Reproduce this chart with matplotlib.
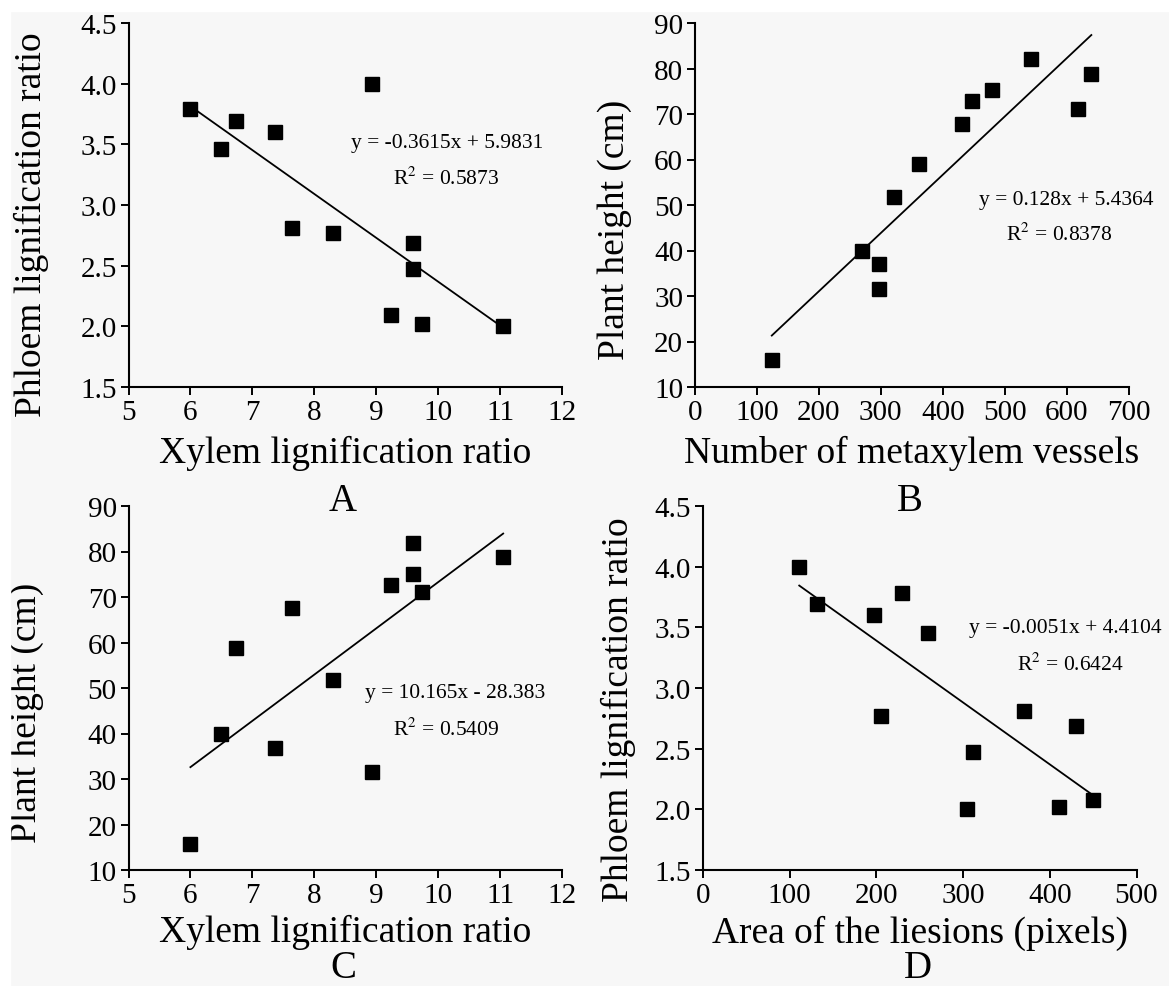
import numpy as np
import matplotlib
matplotlib.use("Agg")
import matplotlib.pyplot as plt
from matplotlib.patches import Rectangle

plt.rcParams['font.family'] = ['Liberation Serif', 'DejaVu Serif']
plt.rcParams['mathtext.fontset'] = 'stix'

# shared x values for panels A and C
xylem_ratio = [6.00, 6.50, 6.74, 7.36, 7.64, 8.30, 8.94, 9.24, 9.59, 9.59, 9.74, 11.05]
phloem_A = [3.79, 3.46, 3.69, 3.60, 2.81, 2.77, 4.00, 2.09, 2.69, 2.47, 2.02, 2.00]
height_C = [15.8, 39.9, 58.8, 36.9, 67.5, 51.7, 31.6, 72.7, 81.9, 75.1, 71.1, 78.7]

metaxylem_vessels = [124, 269, 297, 297, 321, 362, 431, 447, 480, 543, 619, 640]
height_B = [15.9, 39.8, 37.0, 31.6, 51.8, 59.1, 67.8, 72.9, 75.3, 82.1, 71.2, 78.7]

lesion_area = [111, 132, 197, 230, 260, 205, 370, 430, 311, 305, 411, 450]
phloem_D = [4.00, 3.69, 3.60, 3.78, 3.45, 2.77, 2.81, 2.69, 2.47, 2.00, 2.02, 2.08]

# trend line coefficients as printed on the chart
slopes = [-0.3615, 0.128, 10.165, -0.0051]
intercepts = [5.9831, 5.4364, -28.383, 4.4104]
equations = ["y = -0.3615x + 5.9831", "y = 0.128x + 5.4364",
             "y = 10.165x - 28.383", "y = -0.0051x + 4.4104"]
r_squared = ["0.5873", "0.8378", "0.5409", "0.6424"]

panel_letters = ["A", "B", "C", "D"]
x_labels = ["Xylem lignification ratio", "Number of metaxylem vessels",
            "Xylem lignification ratio", "Area of the liesions (pixels)"]
y_labels = ["Phloem lignification ratio", "Plant height (cm)",
            "Plant height (cm)", "Phloem lignification ratio"]

fig = plt.figure(figsize=(11.69, 9.87), dpi=100, facecolor='#f7f7f7')
fig.patches.append(Rectangle((0, 1 - 12 / 987), 1, 12 / 987, transform=fig.transFigure,
                             color='white', zorder=0))
fig.patches.append(Rectangle((0, 0), 10 / 1169, 1, transform=fig.transFigure,
                             color='white', zorder=0))

W = 433.5 / 1169
H = 364 / 987
axes_rect = [
    [128.5 / 1169, 1 - 388 / 987, W, H],
    [695 / 1169, 1 - 388 / 987, W, H],
    [128.5 / 1169, 1 - 871 / 987, W, H],
    [703 / 1169, 1 - 871 / 987, W, H],
]

panels = [
    (xylem_ratio, phloem_A, (5, 12), np.arange(5, 13, 1), (1.5, 4.5), np.arange(1.5, 4.51, 0.5), "%.1f"),
    (metaxylem_vessels, height_B, (0, 700), np.arange(0, 701, 100), (10, 90), np.arange(10, 91, 10), "%d"),
    (xylem_ratio, height_C, (5, 12), np.arange(5, 13, 1), (10, 90), np.arange(10, 91, 10), "%d"),
    (lesion_area, phloem_D, (0, 500), np.arange(0, 501, 100), (1.5, 4.5), np.arange(1.5, 4.51, 0.5), "%.1f"),
]

# label positions in axes fraction
xlabel_y = [-0.179, -0.179, -0.170, -0.170]
ylabel_pos = [(-0.223, 0.45), (-0.185, 0.434), (-0.234, 0.434), (-0.196, 0.442)]
letter_base = [-0.338, -0.338, -0.294, -0.294]   # baseline of panel letters
eq_pos = [(0.735, 0.673), (0.856, 0.516), (0.753, 0.489), (0.835, 0.665)]
r2_pos = [(0.732, 0.574), (0.840, 0.420), (0.732, 0.387), (0.847, 0.566)]

for i, (xs, ys, xlim, xticks, ylim, yticks, yfmt) in enumerate(panels):
    ax = fig.add_axes(axes_rect[i])
    ax.set_facecolor('none')
    ax.plot(xs, ys, ls='none', marker='s', ms=9.5, color='black', clip_on=False, zorder=3)

    xfit = np.array([min(xs), max(xs)])
    ax.plot(xfit, slopes[i] * xfit + intercepts[i], color='black', lw=1.3, zorder=2)

    ax.set_xlim(*xlim)
    ax.set_ylim(*ylim)
    ax.set_xticks(xticks)
    ax.set_yticks(yticks)
    ax.set_yticklabels([yfmt % v for v in yticks])
    for s in ['top', 'right']:
        ax.spines[s].set_visible(False)
    for s in ['left', 'bottom']:
        ax.spines[s].set_linewidth(1.5)
    ax.tick_params(direction='out', length=5.5, width=1.4, labelsize=21, pad=3)

    ax.text(eq_pos[i][0], eq_pos[i][1], equations[i], transform=ax.transAxes,
            ha='center', va='center', fontsize=15.5)
    ax.text(r2_pos[i][0], r2_pos[i][1], "R$^2$ = " + r_squared[i], transform=ax.transAxes,
            ha='center', va='center', fontsize=15.5)

    ax.text(0.5, xlabel_y[i], x_labels[i], transform=ax.transAxes,
            ha='center', va='center', fontsize=27)
    ax.text(ylabel_pos[i][0], ylabel_pos[i][1], y_labels[i], transform=ax.transAxes,
            ha='center', va='center', rotation=90, fontsize=27)
    ax.text(0.495, letter_base[i], panel_letters[i], transform=ax.transAxes,
            ha='center', va='baseline', fontsize=28)

fig.savefig("out.png", dpi=100, facecolor=fig.get_facecolor())
